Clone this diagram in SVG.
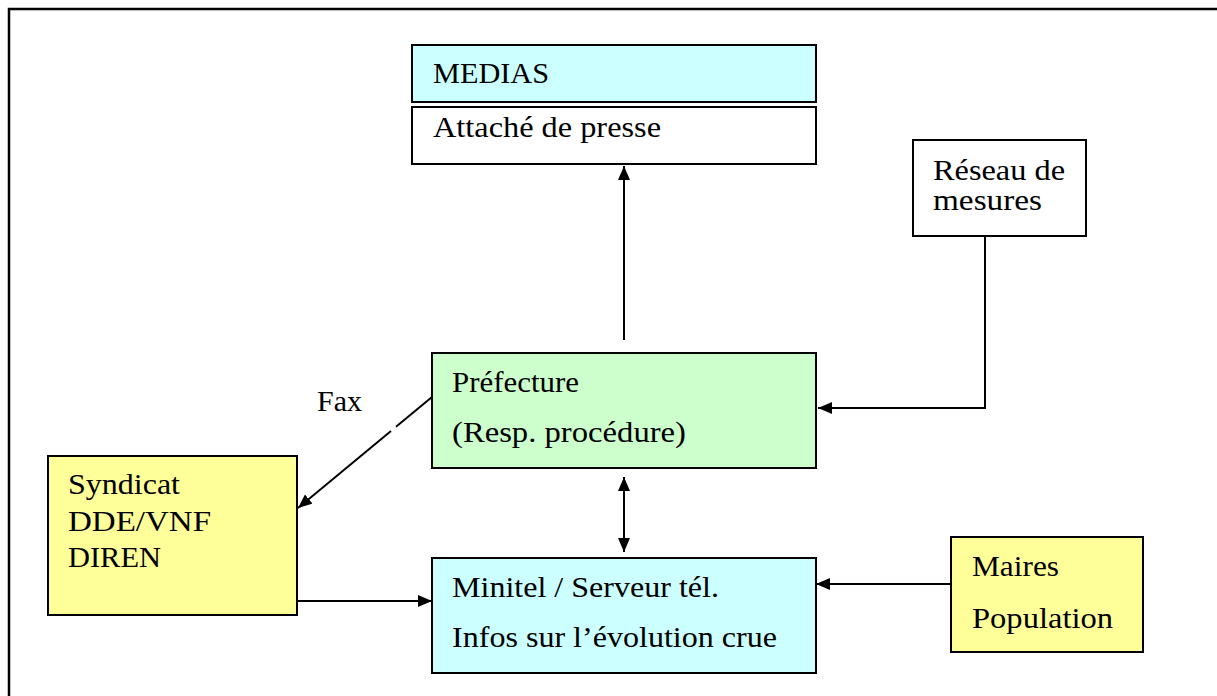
<svg xmlns="http://www.w3.org/2000/svg" width="1217" height="696" viewBox="0 0 1217 696">
<style>
.box{stroke:#000;stroke-width:2}
.cyan{fill:#CCFFFF}
.green{fill:#CCFFCC}
.yellow{fill:#FFFF99}
.white{fill:#FFFFFF}
text{font-family:"Liberation Serif","Times New Roman",serif;font-size:29.5px;fill:#000}
.conn{fill:none;stroke:#000;stroke-width:2}
</style>
<defs>
<marker id="arr" markerUnits="userSpaceOnUse" markerWidth="16" markerHeight="14" refX="14" refY="6" orient="auto-start-reverse">
<path d="M0,0 L14,6 L0,12 z" fill="#000"/>
</marker>
</defs>
<rect width="1217" height="696" fill="#FFFFFF"/>
<path d="M9,696 V9 H1217" fill="none" stroke="#000" stroke-width="2.5"/>

<g id="medias">
<rect class="box cyan" x="412" y="45" width="404" height="57"/>
<text x="433" y="83" textLength="116" lengthAdjust="spacingAndGlyphs">MEDIAS</text>
</g>
<g id="attache">
<rect class="box white" x="412" y="107" width="404" height="57"/>
<text x="433" y="137" textLength="228" lengthAdjust="spacingAndGlyphs">Attaché de presse</text>
</g>
<g id="reseau">
<rect class="box white" x="913" y="140" width="173" height="96"/>
<text x="933" y="180" textLength="132" lengthAdjust="spacingAndGlyphs">Réseau de</text>
<text x="933" y="210" textLength="109" lengthAdjust="spacingAndGlyphs">mesures</text>
</g>
<g id="prefecture">
<rect class="box green" x="432" y="353" width="384" height="115"/>
<text x="452" y="392" textLength="127" lengthAdjust="spacingAndGlyphs">Préfecture</text>
<text x="452" y="442" textLength="234" lengthAdjust="spacingAndGlyphs">(Resp. procédure)</text>
</g>
<g id="syndicat">
<rect class="box yellow" x="48" y="456" width="249" height="159"/>
<text x="68" y="494" textLength="112" lengthAdjust="spacingAndGlyphs">Syndicat</text>
<text x="68" y="531" textLength="143" lengthAdjust="spacingAndGlyphs">DDE/VNF</text>
<text x="68" y="567" textLength="93" lengthAdjust="spacingAndGlyphs">DIREN</text>
</g>
<g id="minitel">
<rect class="box cyan" x="432" y="558" width="384" height="115"/>
<text x="452" y="597" textLength="267" lengthAdjust="spacingAndGlyphs">Minitel / Serveur tél.</text>
<text x="452" y="647" textLength="325" lengthAdjust="spacingAndGlyphs">Infos sur l’évolution crue</text>
</g>
<g id="maires">
<rect class="box yellow" x="951" y="537" width="192" height="115"/>
<text x="972" y="576" textLength="87" lengthAdjust="spacingAndGlyphs">Maires</text>
<text x="972" y="628" textLength="141" lengthAdjust="spacingAndGlyphs">Population</text>
</g>

<g id="connectors">
<path class="conn" d="M624,340 V166" marker-end="url(#arr)"/>
<path class="conn" d="M985,236 V408 H818" marker-end="url(#arr)"/>
<path class="conn" d="M432,397 L396,426.8"/>
<path class="conn" d="M391,430.9 L298,508" marker-end="url(#arr)"/>
<text x="317" y="411" textLength="45" lengthAdjust="spacingAndGlyphs">Fax</text>
<path class="conn" d="M624,477 V552" marker-start="url(#arr)" marker-end="url(#arr)"/>
<path class="conn" d="M297,601 H432" marker-end="url(#arr)"/>
<path class="conn" d="M951,584 H816" marker-end="url(#arr)"/>
</g>
</svg>
